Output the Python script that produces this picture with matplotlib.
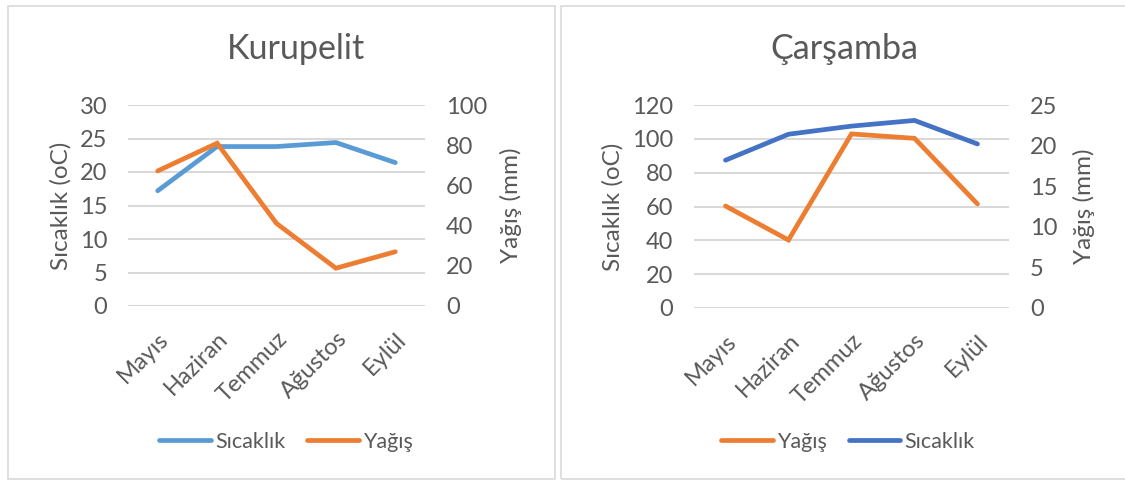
import matplotlib
matplotlib.use("Agg")
import matplotlib.pyplot as plt
from matplotlib.patches import Rectangle

plt.rcParams['font.family'] = ['Lato', 'DejaVu Sans']

months = ["Mayıs", "Haziran", "Temmuz", "Ağustos", "Eylül"]

# Kurupelit
kur_sicaklik = [17.2, 23.8, 23.8, 24.4, 21.4]
kur_yagis = [67.2, 81.0, 41.1, 18.8, 27.0]

# Çarşamba (yağış on the left axis, sıcaklık on the right axis as in the source)
car_yagis = [60.3, 40.2, 102.9, 100.3, 61.5]
car_sicaklik = [18.2, 21.4, 22.4, 23.1, 20.2]

W, H = 1125, 480
TXT = "#595959"
GRID = "#D9D9D9"
BLUE_L = "#5B9BD5"
BLUE_D = "#4472C4"
ORANGE = "#ED7D31"

TICK_FS = 17
LABEL_FS = 17.5
LEG_FS = 15.5

fig = plt.figure(figsize=(W / 100, H / 100), dpi=100)

# chart borders
fig.patches.append(Rectangle((8 / W, 1 / H), 547 / W, 473 / H, transform=fig.transFigure,
                             fill=False, edgecolor=GRID, linewidth=1.2))
fig.patches.append(Rectangle((561 / W, 1 / H), 570 / W, 473 / H, transform=fig.transFigure,
                             fill=False, edgecolor=GRID, linewidth=1.2))


def px_axes(x0, x1, ytop, ybot):
    return fig.add_axes([x0 / W, (H - ybot) / H, (x1 - x0) / W, (ybot - ytop) / H])


def style(ax, ticks):
    for s in ax.spines.values():
        s.set_visible(False)
    ax.set_yticks(ticks)
    ax.set_ylim(ticks[0], ticks[-1])
    ax.tick_params(axis='y', length=0, pad=15, labelsize=TICK_FS, labelcolor=TXT)


def draw(x0, x1, ytop, ybot, title, title_x, left_vals, left_color, left_name, left_ticks,
         right_vals, right_color, right_name, right_ticks, legend_order, lab_l, lab_r, leg_x):
    ax = px_axes(x0, x1, ytop, ybot)
    ax2 = ax.twinx()
    ax.set_zorder(1)
    ax2.set_zorder(2)
    ax.patch.set_visible(False)
    ax2.patch.set_visible(False)
    x = list(range(len(months)))
    ax.set_xlim(-0.5, len(months) - 0.5)
    style(ax, left_ticks)
    style(ax2, right_ticks)
    ax.grid(axis='y', color=GRID, linewidth=1.5)
    ax.set_axisbelow(True)
    l1, = ax.plot(x, left_vals, color=left_color, linewidth=3.4, solid_capstyle='round',
                  solid_joinstyle='miter', label=left_name, zorder=3)
    l2, = ax2.plot(x, right_vals, color=right_color, linewidth=3.4, solid_capstyle='round',
                   solid_joinstyle='miter', label=right_name, zorder=3)
    ax.set_xticks(x)
    ax.set_xticklabels(months, rotation=45, ha='right', va='top', rotation_mode='anchor',
                       fontsize=TICK_FS, color=TXT)
    ax.tick_params(axis='x', length=0, pad=16)
    ax.set_ylabel("Sıcaklık (oC)", fontsize=LABEL_FS, color=TXT)
    ax.yaxis.set_label_coords(lab_l, 0.5)
    ax2.set_ylabel("Yağış (mm)", fontsize=LABEL_FS, color=TXT, rotation=90)
    ax2.yaxis.set_label_coords(lab_r, 0.5)
    fig.text(title_x / W, 1 - 49 / H, title, fontsize=24.5, color=TXT, ha='center', va='center')
    handles = {left_name: l1, right_name: l2}
    hs = [handles[n] for n in legend_order]
    fig.legend(hs, legend_order, loc='center', bbox_to_anchor=(leg_x / W, 1 - 442 / H),
               ncol=2, frameon=False, fontsize=LEG_FS, labelcolor=TXT, handlelength=2.4,
               handletextpad=0.2, columnspacing=1.0)


draw(128, 425, 105, 306, "Kurupelit", 296,
     kur_sicaklik, BLUE_L, "Sıcaklık", [0, 5, 10, 15, 20, 25, 30],
     kur_yagis, ORANGE, "Yağış", [0, 20, 40, 60, 80, 100],
     ["Sıcaklık", "Yağış"], -0.19, 1.252, 286)

draw(694, 1009, 105, 308, "Çarşamba", 844,
     car_yagis, ORANGE, "Yağış", [0, 20, 40, 60, 80, 100, 120],
     car_sicaklik, BLUE_D, "Sıcaklık", [0, 5, 10, 15, 20, 25],
     ["Yağış", "Sıcaklık"], -0.225, 1.203, 848)

fig.savefig("out.png", dpi=100)
